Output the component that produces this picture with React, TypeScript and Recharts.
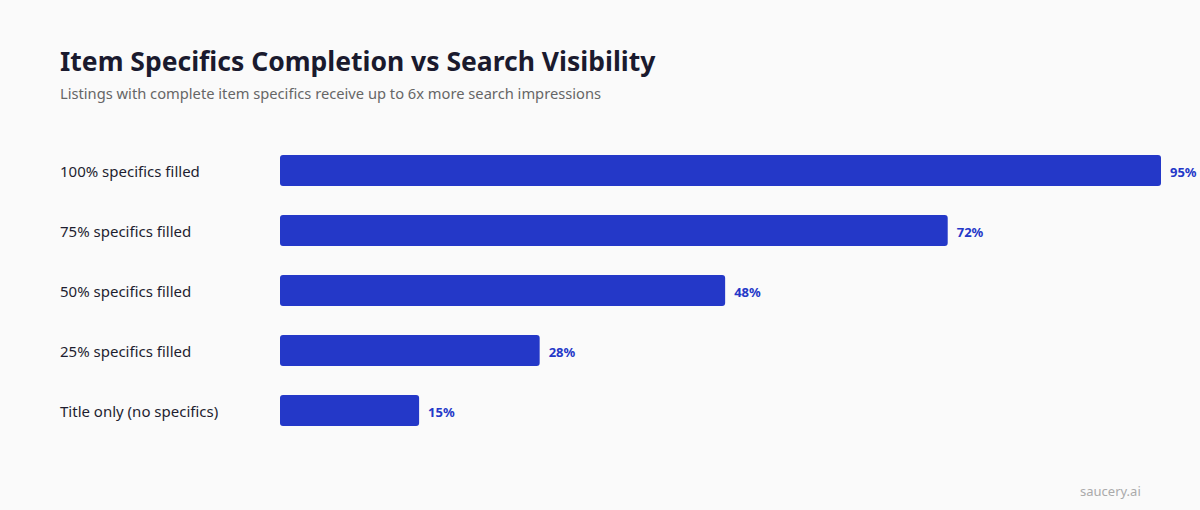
import React from 'react';
import { BarChart, Bar, XAxis, YAxis, LabelList } from 'recharts';

const categories = ['100% specifics filled', '75% specifics filled', '50% specifics filled', '25% specifics filled', 'Title only (no specifics)'];
const visibility = [95, 72, 48, 28, 15];

const data = categories.map((c, i) => ({ name: c, value: visibility[i] }));

const FONT = '"Noto Sans", "Open Sans", sans-serif';
const BLUE = '#2438c8';

const CatTick = (props: any) => {
  const { y, payload } = props;
  return (
    <text x={60} y={y} dy={7} textAnchor="start" fill="#1e1e30" fontSize={15} fontFamily={FONT}>
      {payload.value}
    </text>
  );
};

const ValueLabel = (props: any) => {
  const { x, y, width, height, value } = props;
  return (
    <text x={x + width + 9} y={y + height / 2 + 6} textAnchor="start" fill={BLUE} fontSize={13} fontWeight={700} fontFamily={FONT}>
      {`${value}%`}
    </text>
  );
};

export default function App() {
  return (
    <div style={{ position: 'absolute', left: 0, top: 0, width: 1200, height: 510, background: '#fafafa', fontFamily: FONT, overflow: 'hidden' }}>
      <div style={{ position: 'absolute', left: 60, top: 41, fontSize: 26.5, fontWeight: 700, color: '#1a1a2e', lineHeight: '40px', whiteSpace: 'nowrap' }}>
        Item Specifics Completion vs Search Visibility
      </div>
      <div style={{ position: 'absolute', left: 60, top: 81, fontSize: 14.7, color: '#666666', lineHeight: '24px', whiteSpace: 'nowrap' }}>
        Listings with complete item specifics receive up to 6x more search impressions
      </div>
      <div style={{ position: 'absolute', left: 1080, top: 482, fontSize: 13, color: '#aaaaaa', whiteSpace: 'nowrap' }}>
        saucery.ai
      </div>
      <div style={{ position: 'absolute', left: 0, top: 0 }}>
        <BarChart
          width={1200}
          height={510}
          data={data}
          layout="vertical"
          margin={{ top: 140, right: 39, bottom: 70, left: 0 }}
          barCategoryGap={0}
        >
          <XAxis type="number" domain={[0, 95]} hide />
          <YAxis type="category" dataKey="name" width={280} axisLine={false} tickLine={false} tick={<CatTick />} />
          <Bar dataKey="value" fill={BLUE} barSize={31} radius={3} isAnimationActive={false}>
            <LabelList dataKey="value" content={<ValueLabel />} />
          </Bar>
        </BarChart>
      </div>
    </div>
  );
}
